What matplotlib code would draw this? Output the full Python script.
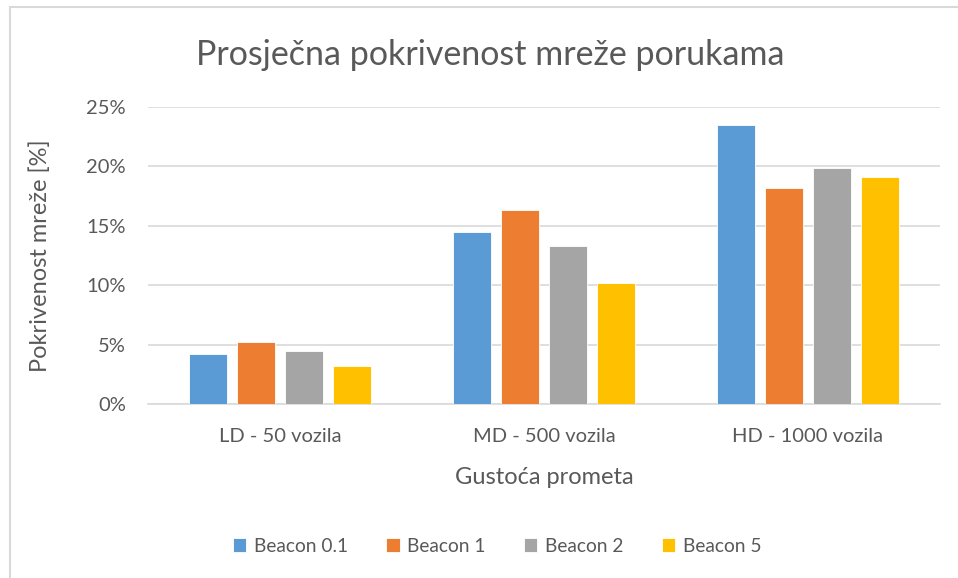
import numpy as np
import matplotlib
matplotlib.use("Agg")
import matplotlib.pyplot as plt
from matplotlib.patches import Rectangle

categories = ["LD - 50 vozila", "MD - 500 vozila", "HD - 1000 vozila"]
series = ["Beacon 0.1", "Beacon 1", "Beacon 2", "Beacon 5"]
beacon_01 = [4.2, 14.5, 23.45]
beacon_1 = [5.25, 16.35, 18.15]
beacon_2 = [4.5, 13.3, 19.85]
beacon_5 = [3.2, 10.2, 19.1]
yticks = [0, 5, 10, 15, 20, 25]

colors = ["#5B9BD5", "#ED7D31", "#A5A5A5", "#FFC000"]
txt = "#595959"
plt.rcParams["font.family"] = ["Lato", "DejaVu Sans"]

W, H = 958, 578
fig = plt.figure(figsize=(W / 100, H / 100), dpi=100)
ax = fig.add_axes([148 / W, 1 - 404 / H, (940 - 148) / W, (404 - 107) / H])

# outer chart border (left/top visible only)
fig.patches.append(Rectangle((9.5 / W, -0.1), 1.2, 1 - 7.5 / H + 0.1,
                             transform=fig.transFigure, fill=False,
                             edgecolor="#D9D9D9", lw=1.5))

x = np.arange(len(categories))
step = 48 / 264
width = 38 / 264
for i, (vals, name) in enumerate(zip([beacon_01, beacon_1, beacon_2, beacon_5], series)):
    ax.bar(x + (i - 1.5) * step, vals, width, color=colors[i], label=name,
           edgecolor="white", linewidth=0.6, zorder=3)

ax.set_xlim(-0.5, 2.5)
ax.set_ylim(0, 25)
ax.set_yticks(yticks)
ax.set_yticklabels([f"{v}%" for v in yticks])
ax.set_xticks(x)
ax.set_xticklabels(categories)
ax.grid(axis="y", color="#D9D9D9", lw=1.2, zorder=0)
for s in ["top", "right", "left"]:
    ax.spines[s].set_visible(False)
ax.spines["bottom"].set_color("#D9D9D9")
ax.spines["bottom"].set_linewidth(1.2)
ax.tick_params(length=0, labelsize=14.5, colors=txt)
ax.tick_params(axis="y", pad=16)
ax.tick_params(axis="x", pad=17)

ax.set_ylabel("Pokrivenost mreže [%]", fontsize=17, color=txt)
ax.set_xlabel("Gustoća prometa", fontsize=17, color=txt)
ax.yaxis.set_label_coords((40 - 148) / 792, 0.5)
ax.xaxis.set_label_coords(0.5, (404 - 477) / 297)
ax.xaxis.label.set_va("center")
ax.yaxis.label.set_va("center")
fig.text(490 / W, 1 - 55 / H, "Prosječna pokrivenost mreže porukama",
         ha="center", va="center", fontsize=24.5, color=txt)

fig.legend(loc="center", bbox_to_anchor=(497 / W, 1 - 546 / H), ncol=4,
           frameon=False, fontsize=13.8, labelcolor=txt, handlelength=0.7,
           handleheight=0.7, handletextpad=0.4, columnspacing=2.0)

fig.savefig("out.png", dpi=100)
